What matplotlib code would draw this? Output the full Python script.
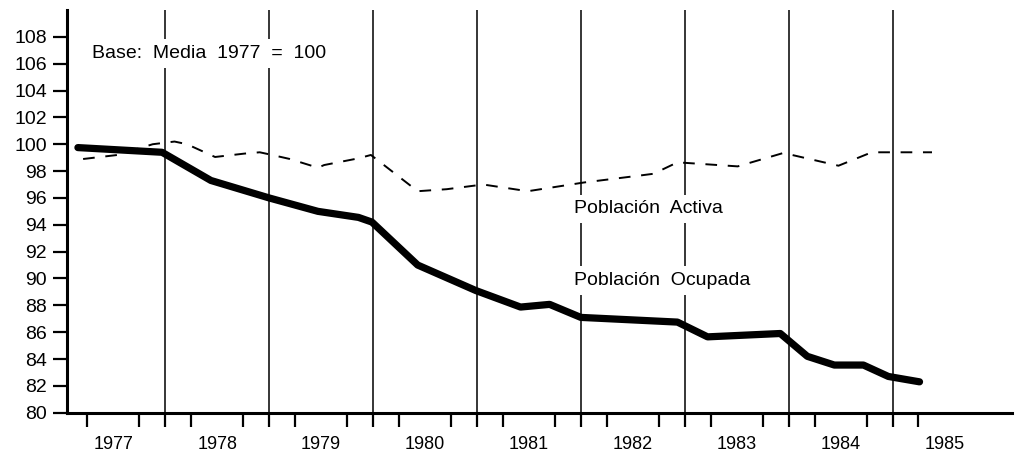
import matplotlib
matplotlib.use("Agg")
import numpy as np
import matplotlib.pyplot as plt

plt.rcParams['font.family'] = ['Liberation Sans', 'DejaVu Sans']

# ==========================================
# Data (index, Base: Media 1977 = 100)
# ==========================================
ocupada_t = [1977.16, 1977.97, 1978.44, 1979.00, 1979.47, 1979.86, 1979.99,
             1980.43, 1980.99, 1981.42, 1981.70, 1982.00, 1982.93, 1983.22,
             1983.92, 1984.18, 1984.44, 1984.72, 1984.96, 1985.26]
ocupada = [99.75, 99.4, 97.3, 96.0, 95.0, 94.55, 94.2,
           91.0, 89.1, 87.87, 88.07, 87.1, 86.75, 85.65,
           85.9, 84.2, 83.55, 83.55, 82.7, 82.3]

activa_t = [1977.21, 1977.54, 1977.88, 1978.09, 1978.21, 1978.48, 1978.76,
            1978.91, 1979.00, 1979.20, 1979.47, 1979.53, 1979.86, 1979.98,
            1980.43, 1980.71, 1981.06, 1981.49, 1982.03, 1982.55, 1982.70,
            1982.93, 1983.03, 1983.51, 1983.95, 1984.48, 1984.80, 1985.38]
activa = [98.9, 99.2, 100.0, 100.2, 100.0, 99.05, 99.3,
          99.4, 99.25, 98.9, 98.25, 98.45, 98.95, 99.2,
          96.5, 96.65, 97.0, 96.5, 97.15, 97.65, 97.8,
          98.65, 98.6, 98.35, 99.35, 98.4, 99.4, 99.4]

years = [1977, 1978, 1979, 1980, 1981, 1982, 1983, 1984, 1985]
year_lines = [1978, 1979, 1980, 1981, 1982, 1983, 1984, 1985]
y_ticks = list(range(80, 110, 2))

# ==========================================
# Figure
# ==========================================
W, H = 1018, 458
fig = plt.figure(figsize=(W / 100, H / 100), dpi=100)
ax = fig.add_axes([67 / W, (H - 412.7) / H, (1012 - 67) / W, (412.7 - 10) / H])

ax.set_xlim(1977.055, 1986.15)
ax.set_ylim(80, 110)

# year separators
for yr in year_lines:
    ax.axvline(yr, color='black', lw=1.1, zorder=1)

ax.plot(activa_t, activa, color='black', lw=1.4, dashes=(6, 5.5), zorder=2)
ax.plot(ocupada_t, ocupada, color='black', lw=5.2, solid_capstyle='round',
        solid_joinstyle='round', zorder=3)

# annotations
txt_kw = dict(fontsize=14, color='black', va='center', ha='left', zorder=4,
              bbox=dict(facecolor='white', edgecolor='none', pad=4))
ax.text(1977.30, 106.75, 'Base:  Media  1977  =  100', **txt_kw)
ax.text(1981.93, 95.2, 'Población  Activa', **txt_kw)
ax.text(1981.93, 89.85, 'Población  Ocupada', **txt_kw)

# axes
for side in ['top', 'right']:
    ax.spines[side].set_visible(False)
for side in ['left', 'bottom']:
    ax.spines[side].set_linewidth(2.2)

ax.set_yticks(y_ticks)
ax.set_yticklabels([str(v) for v in y_ticks], fontsize=14)
ax.tick_params(axis='y', direction='out', length=10, width=1.6, pad=4.3)

quarters = np.arange(1977.25, 1985.51, 0.25)
ax.set_xticks(quarters, minor=True)
ax.set_xticks([y + 0.5 for y in years])
ax.set_xticklabels([str(y) for y in years], fontsize=13)
ax.tick_params(axis='x', which='major', length=0, pad=16.5)
ax.tick_params(axis='x', which='minor', direction='out', length=10, width=1.6)

fig.savefig('out.png', dpi=100)
